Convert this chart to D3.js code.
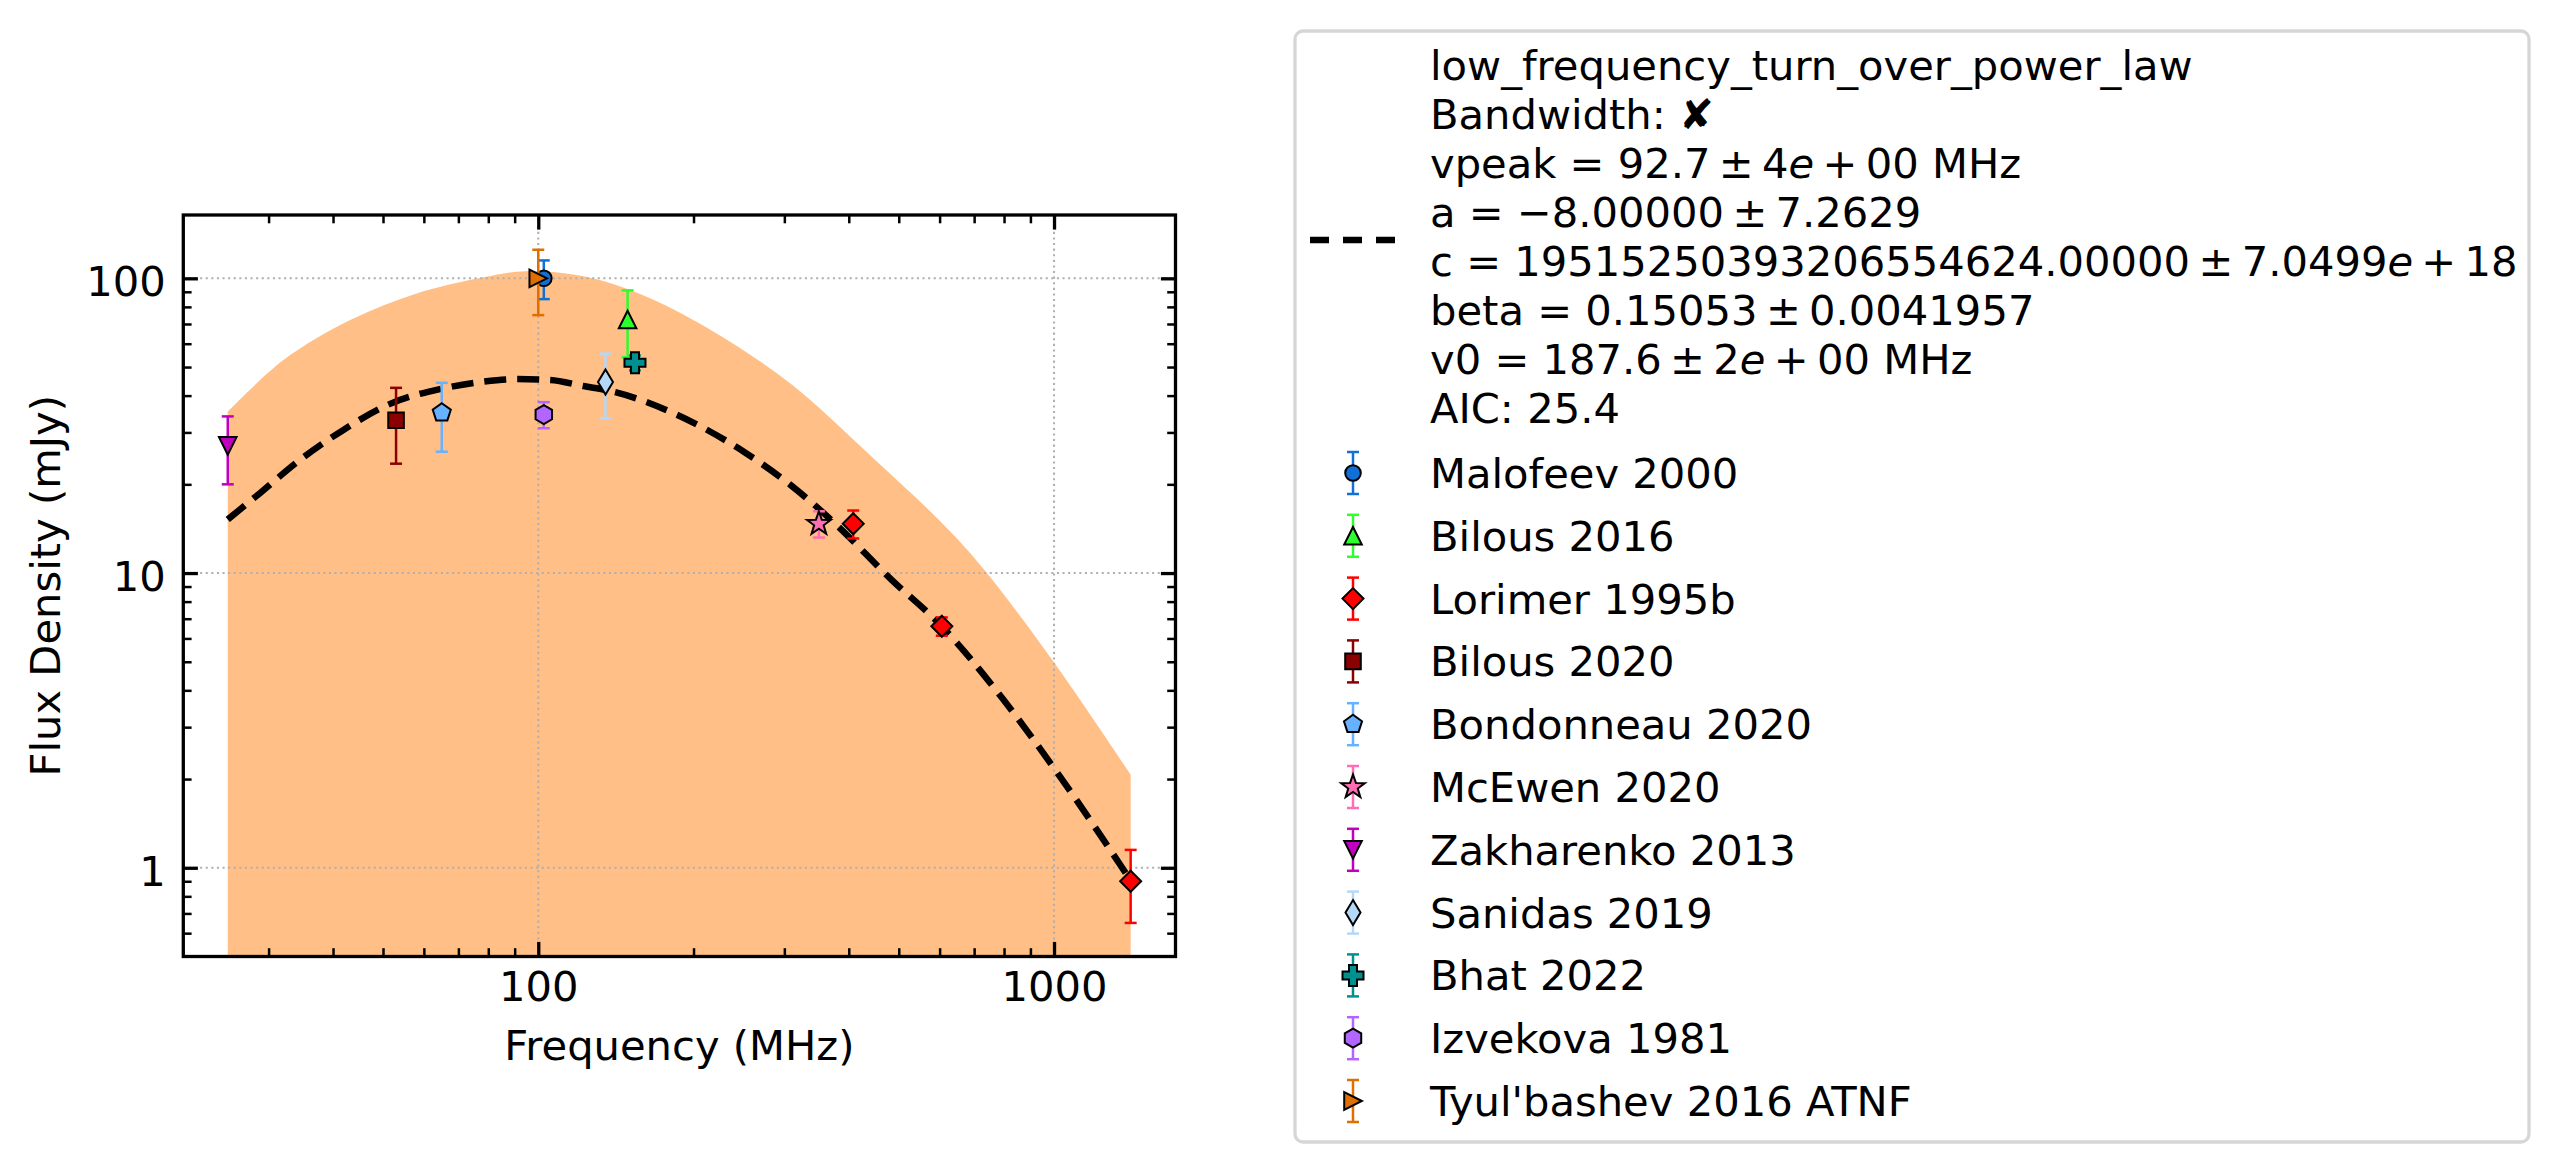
<!DOCTYPE html>
<html>
<head>
<meta charset="utf-8">
<script src="https://cdn.jsdelivr.net/npm/d3@7"></script>
<style>
  body { margin: 0; background: #fff; }
  text { font-family: "DejaVu Sans", sans-serif; }
</style>
</head>
<body>
<div id="chart"></div>
<script>
// ---- data ----
const labels = ["Malofeev 2000", "Bilous 2016", "Lorimer 1995b", "Bilous 2020", "Bondonneau 2020",
  "McEwen 2020", "Zakharenko 2013", "Sanidas 2019", "Bhat 2022", "Izvekova 1981", "Tyul'bashev 2016 ATNF"];
const colors = ["#1170d6", "#2cff2c", "#ff0000", "#8b0000", "#66b2ff",
  "#ff6eb4", "#bf00bf", "#b5d8f8", "#009090", "#b266ff", "#df6f00"];
const markers = ["circle", "triUp", "diamond", "square", "pentagon",
  "star", "triDown", "thinDiamond", "plus", "hexagon", "triRight"];
const freqs = [[102.5], [149], [408, 606, 1408], [53], [65], [350], [25], [135], [154], [102.5], [100]];
const fluxes = [[100], [72.5], [14.7, 6.6, 0.9], [33], [35], [14.7], [27], [44.5], [51.7], [34.5], [100]];
const fluxErrs = [[15], [18.5], [1.6, 0.47, 0.25], [9.5], [9.2], [1.5], [7], [11], [3], [3.5], [25]];

// fitted curve
const fitFreq = [25, 28.9, 34.5, 41.9, 51.6, 64.5, 78.2, 90.8, 105.4, 122.3, 141, 185.3, 252, 309.5, 373.5, 482.6, 602.6, 792, 1023, 1408];
const fitFlux = [15.2, 18.7, 24.2, 30.6, 37.5, 42.1, 44.6, 45.5, 45.2, 43.1, 41.1, 34.5, 25.6, 19.8, 14.9, 9.54, 6.66, 3.78, 2.06, 0.905];

// upper edge of the uncertainty band
const bandFreq = [25, 32.05, 43.2, 58.1, 78.3, 90.8, 105.4, 131.6, 164.7, 220, 309.6, 435.7, 613, 727.6, 998, 1408];
const bandUpper = [35.3, 52.8, 72.2, 88.9, 100.8, 105.3, 105.3, 98.7, 85.5, 65.5, 43.7, 25.5, 14.5, 10.4, 5.0, 2.07];

const fitLines = ["low_frequency_turn_over_power_law", "Bandwidth: \u2718",
  "vpeak = 92.7\u2009\u00b1\u20094{e}\u2009+\u200900 MHz", "a = \u22128.00000\u2009\u00b1\u20097.2629",
  "c = 19515250393206554624.00000\u2009\u00b1\u20097.0499{e}\u2009+\u200918",
  "beta = 0.15053\u2009\u00b1\u20090.0041957", "v0 = 187.6\u2009\u00b1\u20092{e}\u2009+\u200900 MHz", "AIC: 25.4"];

const xTicks = [100, 1000];
const xMinor = [30, 40, 50, 60, 70, 80, 90, 200, 300, 400, 500, 600, 700, 800, 900];
const yTicks = [1, 10, 100];
const yMinor = [0.6, 0.7, 0.8, 0.9, 2, 3, 4, 5, 6, 7, 8, 9, 20, 30, 40, 50, 60, 70, 80, 90];

// ---- layout ----
const W = 2559, H = 1172;
const plot = { left: 183.3, right: 1175.5, top: 215, bottom: 956.5 };
const fs = 41.67;

const svg = d3.select("#chart").append("svg")
  .attr("width", W).attr("height", H)
  .style("display", "block");

svg.append("rect").attr("width", W).attr("height", H).attr("fill", "#fff");

const x = d3.scaleLog().domain([20.5, 1720]).range([plot.left, plot.right]);
const y = d3.scaleLog().domain([0.5, 164]).range([plot.bottom, plot.top]);

svg.append("clipPath").attr("id", "clip")
  .append("rect")
  .attr("x", plot.left).attr("y", plot.top)
  .attr("width", plot.right - plot.left).attr("height", plot.bottom - plot.top);

const inner = svg.append("g").attr("clip-path", "url(#clip)");

// band
const band = d3.zip(bandFreq, bandUpper);
inner.append("path")
  .datum(band)
  .attr("fill", "#ffbf86")
  .attr("d", d3.area()
    .x(d => x(d[0]))
    .y0(y.range()[0])
    .y1(d => y(d[1]))
    .curve(d3.curveCatmullRom));

// grid (dotted, above the band)
inner.selectAll(".gx").data(xTicks).enter().append("line")
  .attr("x1", d => x(d)).attr("x2", d => x(d))
  .attr("y1", plot.top).attr("y2", plot.bottom)
  .attr("stroke", "#b0b0b0").attr("stroke-width", 2.1).attr("stroke-dasharray", "2.1,3.5");
inner.selectAll(".gy").data(yTicks).enter().append("line")
  .attr("y1", d => y(d)).attr("y2", d => y(d))
  .attr("x1", plot.left).attr("x2", plot.right)
  .attr("stroke", "#b0b0b0").attr("stroke-width", 2.1).attr("stroke-dasharray", "2.1,3.5");

// fitted curve
inner.append("path")
  .datum(d3.zip(fitFreq, fitFlux))
  .attr("fill", "none")
  .attr("stroke", "#000")
  .attr("stroke-width", 6.5)
  .attr("stroke-dasharray", "22,11")
  .attr("d", d3.line().x(d => x(d[0])).y(d => y(d[1])).curve(d3.curveMonotoneX));

// marker shapes
function poly(pts) { return "M" + pts.map(p => p[0].toFixed(2) + "," + p[1].toFixed(2)).join("L") + "Z"; }
function ring(n, r, start) {
  return d3.range(n).map(k => {
    const a = (start + k * 360 / n) * Math.PI / 180;
    return [r * Math.cos(a), r * Math.sin(a)];
  });
}
function markerPath(type) {
  const h = 8.8;
  switch (type) {
    case "circle": return d3.symbol(d3.symbolCircle, Math.PI * 7.8 * 7.8)();
    case "square": return poly([[-7.8, -7.8], [7.8, -7.8], [7.8, 7.8], [-7.8, 7.8]]);
    case "triUp": return poly([[0, -h], [-h, h], [h, h]]);
    case "triDown": return poly([[0, h], [-h, -h], [h, -h]]);
    case "triRight": return poly([[h, 0], [-h, -h], [-h, h]]);
    case "diamond": return poly([[0, -10.5], [10.5, 0], [0, 10.5], [-10.5, 0]]);
    case "thinDiamond": return poly([[0, -12.5], [7.5, 0], [0, 12.5], [-7.5, 0]]);
    case "pentagon": return poly(ring(5, 9.5, -90));
    case "hexagon": return poly(ring(6, 9.5, -90));
    case "star": {
      const pts = [];
      for (let k = 0; k < 10; k++) {
        const r = k % 2 === 0 ? 12.5 : 5;
        const a = (-90 + k * 36) * Math.PI / 180;
        pts.push([r * Math.cos(a), r * Math.sin(a)]);
      }
      return poly(pts);
    }
    case "plus": {
      const a = 10.5, w = 4;
      return poly([[-w, -a], [w, -a], [w, -w], [a, -w], [a, w], [w, w], [w, a], [-w, a], [-w, w], [-a, w], [-a, -w], [-w, -w]]);
    }
  }
}

// data points with error bars
const pts = svg.append("g");
labels.forEach((lab, i) => {
  const g = pts.append("g");
  const rows = freqs[i].map((f, j) => ({ f: f, s: fluxes[i][j], e: fluxErrs[i][j] }));
  rows.forEach(d => {
    const cx = x(d.f), y1 = y(d.s + d.e), y0 = y(Math.max(d.s - d.e, 0.01));
    g.append("line").attr("x1", cx).attr("x2", cx).attr("y1", y0).attr("y2", y1)
      .attr("stroke", colors[i]).attr("stroke-width", 2.5);
    [y0, y1].forEach(cy => g.append("line")
      .attr("x1", cx - 6).attr("x2", cx + 6).attr("y1", cy).attr("y2", cy)
      .attr("stroke", colors[i]).attr("stroke-width", 2.5));
  });
  g.selectAll("path").data(rows).enter().append("path")
    .attr("d", markerPath(markers[i]))
    .attr("transform", d => `translate(${x(d.f)},${y(d.s)})`)
    .attr("fill", colors[i])
    .attr("stroke", "#000")
    .attr("stroke-width", 2);
});

// axes (ticks inward on all four sides)
function styleAxis(g, len) {
  g.select(".domain").remove();
  g.selectAll("line").attr("stroke", "#000").attr("stroke-width", len > 10 ? 3.3 : 2.5);
  g.selectAll("text").attr("font-family", "DejaVu Sans").attr("font-size", fs).attr("fill", "#000");
}
const fmt = d3.format("d");
[[d3.axisBottom, plot.bottom, true], [d3.axisTop, plot.top, false]].forEach(([ax, ty, lab]) => {
  svg.append("g").attr("transform", `translate(0,${ty})`)
    .call(ax(x).tickValues(xMinor).tickSize(-8.3).tickFormat(""))
    .call(g => styleAxis(g, 8.3));
  svg.append("g").attr("transform", `translate(0,${ty})`)
    .call(ax(x).tickValues(xTicks).tickSize(-14.6).tickPadding(14.6).tickFormat(lab ? fmt : ""))
    .call(g => styleAxis(g, 14.6));
});
[[d3.axisLeft, plot.left, true], [d3.axisRight, plot.right, false]].forEach(([ax, tx, lab]) => {
  svg.append("g").attr("transform", `translate(${tx},0)`)
    .call(ax(y).tickValues(yMinor).tickSize(-8.3).tickFormat(""))
    .call(g => styleAxis(g, 8.3));
  const gm = svg.append("g").attr("transform", `translate(${tx},0)`)
    .call(ax(y).tickValues(yTicks).tickSize(-14.6).tickPadding(17.5).tickFormat(lab ? fmt : ""))
    .call(g => styleAxis(g, 14.6));
  gm.selectAll("text").attr("dy", "0.42em");
});

// frame
svg.append("rect")
  .attr("x", plot.left).attr("y", plot.top)
  .attr("width", plot.right - plot.left).attr("height", plot.bottom - plot.top)
  .attr("fill", "none").attr("stroke", "#000").attr("stroke-width", 3.3);

// axis labels
svg.append("text")
  .attr("x", (plot.left + plot.right) / 2).attr("y", 1060)
  .attr("text-anchor", "middle").attr("font-size", fs)
  .text("Frequency (MHz)");
svg.append("text")
  .attr("transform", `translate(60,${(plot.top + plot.bottom) / 2}) rotate(-90)`)
  .attr("text-anchor", "middle").attr("font-size", fs)
  .text("Flux Density (mJy)");

// legend
const legend = svg.append("g");
legend.append("rect")
  .attr("x", 1295).attr("y", 31).attr("width", 1234).attr("height", 1111)
  .attr("rx", 8).attr("ry", 8)
  .attr("fill", "#fff").attr("stroke", "#d6d6d6").attr("stroke-width", 3.3);

legend.append("line")
  .attr("x1", 1310).attr("x2", 1396).attr("y1", 240).attr("y2", 240)
  .attr("stroke", "#000").attr("stroke-width", 6.5).attr("stroke-dasharray", "19,14");

fitLines.forEach((line, i) => {
  const t = legend.append("text")
    .attr("x", 1430).attr("y", 80 + 49 * i)
    .attr("font-size", fs);
  line.split("{e}").forEach((part, k) => {
    if (k > 0) t.append("tspan").attr("font-style", "italic").text("e");
    t.append("tspan").text(part);
  });
});

labels.forEach((lab, i) => {
  const cy = 473 + 62.8 * i, cx = 1353;
  const row = legend.append("g");
  row.append("line").attr("x1", cx).attr("x2", cx).attr("y1", cy - 21).attr("y2", cy + 21)
    .attr("stroke", colors[i]).attr("stroke-width", 2.5);
  [cy - 21, cy + 21].forEach(v => row.append("line")
    .attr("x1", cx - 6).attr("x2", cx + 6).attr("y1", v).attr("y2", v)
    .attr("stroke", colors[i]).attr("stroke-width", 2.5));
  row.append("path")
    .attr("d", markerPath(markers[i]))
    .attr("transform", `translate(${cx},${cy})`)
    .attr("fill", colors[i]).attr("stroke", "#000").attr("stroke-width", 2);
  row.append("text")
    .attr("x", 1430).attr("y", cy + 15)
    .attr("font-size", fs)
    .text(lab);
});
</script>
</body>
</html>
